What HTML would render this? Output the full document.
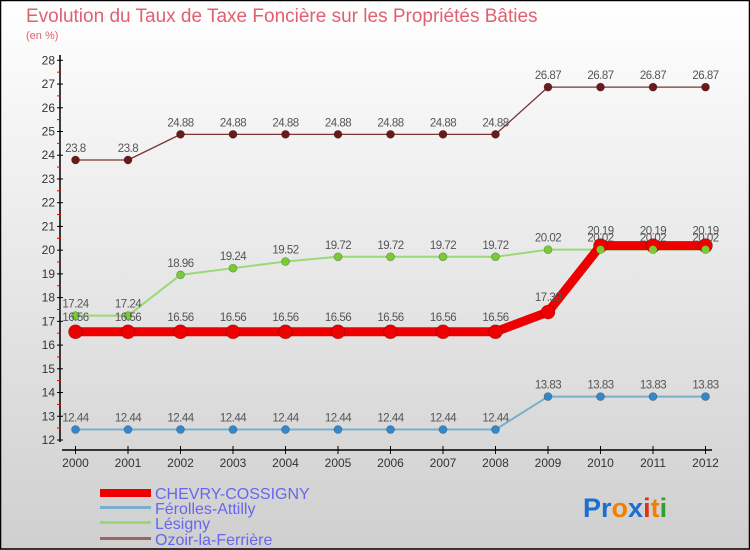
<!DOCTYPE html>
<html><head><meta charset="utf-8"><style>
body{margin:0;width:750px;height:550px;overflow:hidden;font-family:"Liberation Sans",sans-serif}
svg{display:block}
</style></head><body>
<svg width="750" height="550" xmlns="http://www.w3.org/2000/svg">
<defs><linearGradient id="bg" x1="0" y1="0" x2="0" y2="1"><stop offset="0" stop-color="#ffffff"/><stop offset="1" stop-color="#cfcfcf"/></linearGradient></defs>
<rect width="750" height="550" fill="url(#bg)"/>
<rect x="0.5" y="0.5" width="749" height="548.5" fill="none" stroke="#000" stroke-width="1.5"/>
<text x="26" y="22" font-size="19" fill="#e06070">Evolution du Taux de Taxe Foncière sur les Propriétés Bâties</text>
<text x="26" y="39" font-size="11" fill="#e06070">(en %)</text>
<g id="axes"></g>
<g id="series"></g>
<g id="legend">
<rect x="100" y="489" width="51" height="8" fill="#ee0000"/>
<text x="155" y="499" font-size="16" fill="#6666ee">CHEVRY-COSSIGNY</text>
<rect x="100" y="506" width="51" height="3" fill="#7aaecc"/>
<text x="155" y="514" font-size="16" fill="#6666ee">Férolles-Attilly</text>
<rect x="100" y="521" width="51" height="3" fill="#99d977"/>
<text x="155" y="529" font-size="16" fill="#6666ee">Lésigny</text>
<rect x="100" y="537" width="51" height="3" fill="#996666"/>
<text x="155" y="545" font-size="16" fill="#6666ee">Ozoir-la-Ferrière</text>
</g>
<text x="583" y="517" font-size="27" font-weight="bold"><tspan fill="#1a6fd0">Pr</tspan><tspan fill="#f08000">o</tspan><tspan fill="#1a6fd0">x</tspan><tspan fill="#e03010">i</tspan><tspan fill="#f08000">t</tspan><tspan fill="#30a030">i</tspan></text>
</svg>
<script>
const years=["2000","2001","2002","2003","2004","2005","2006","2007","2008","2009","2010","2011","2012"];
const yTicks=[12,13,14,15,16,17,18,19,20,21,22,23,24,25,26,27,28];
const chevry=[16.56,16.56,16.56,16.56,16.56,16.56,16.56,16.56,16.56,17.39,20.19,20.19,20.19];
const ferolles=[12.44,12.44,12.44,12.44,12.44,12.44,12.44,12.44,12.44,13.83,13.83,13.83,13.83];
const lesigny=[17.24,17.24,18.96,19.24,19.52,19.72,19.72,19.72,19.72,20.02,20.02,20.02,20.02];
const ozoir=[23.8,23.8,24.88,24.88,24.88,24.88,24.88,24.88,24.88,26.87,26.87,26.87,26.87];
const NS="http://www.w3.org/2000/svg";
const xs=i=>75.5+i*52.5;
const ys=v=>440-(v-12)*23.73;
function mk(tag,attrs,parent,txt){const e=document.createElementNS(NS,tag);for(const k in attrs)e.setAttribute(k,attrs[k]);if(txt!==undefined)e.textContent=txt;parent.appendChild(e);return e;}
const ax=document.getElementById('axes');
let l=mk('line',{x1:60,y1:55,x2:60,y2:442,stroke:'#000','stroke-width':1.5},ax);


l=mk('line',{x1:62,y1:450,x2:712,y2:450,stroke:'#000','stroke-width':1.5},ax);


yTicks.forEach(v=>{const y=ys(v);
 mk('line',{x1:57,y1:y,x2:63,y2:y,stroke:'#000'},ax);
 if(v<28)mk('line',{x1:57,y1:y-11.9,x2:61,y2:y-11.9,stroke:'#e00'},ax);
 const t=mk('text',{x:55,y:y+4,'font-size':12,fill:'#333','text-anchor':'end'},ax,String(v));
 
 
});
years.forEach((yr,i)=>{const x=xs(i);
 mk('line',{x1:x,y1:446,x2:x,y2:454,stroke:'#000'},ax);
 const t=mk('text',{x:x,y:467,'font-size':12,fill:'#333','text-anchor':'middle'},ax,yr);
 
 
});
const sg=document.getElementById('series');
function draw(vals,name,color,w,r,ptColor,labelDy){
 const g=mk('g',{},sg);
 
 
 mk('polyline',{points:vals.map((v,i)=>xs(i)+','+ys(v)).join(' '),fill:'none',stroke:color,'stroke-width':w,'stroke-linejoin':'round'},g);
 vals.forEach((v,i)=>{
  const c=mk('circle',{cx:xs(i),cy:ys(v),r:r,fill:ptColor,stroke:'rgba(0,0,0,0.3)','stroke-width':0.7},g);
  
  
  const t=mk('text',{x:xs(i),y:ys(v)+labelDy,'font-size':11.5,fill:'#555','text-anchor':'middle','letter-spacing':'-0.5'},g,String(v));
  
  
 });
}
draw(ozoir,'ozoir','#7a3535',1.3,4,'#6b1a1a',-8);
draw(ferolles,'ferolles','#7aaecc',2,4,'#3388cc',-8);
draw(lesigny,'lesigny','#99d977',2,4,'#77cc33',-8);
draw(chevry,'chevry','#ee0000',9,7,'#ee0000',-11);
lesigny.forEach((v,i)=>{if(i>=10){const c=mk('circle',{cx:xs(i),cy:ys(v),r:4,fill:'#77cc33'},sg);
 
 }});
</script>
</body></html>
